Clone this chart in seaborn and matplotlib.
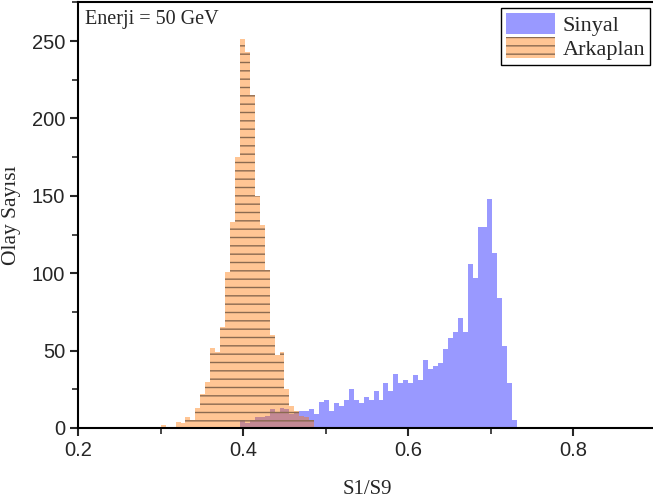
import numpy as np
import pandas as pd
import matplotlib
matplotlib.use("Agg")
import matplotlib.pyplot as plt
from matplotlib.patches import Patch
from matplotlib.ticker import MultipleLocator
import seaborn as sns

# histogram data (bin width 0.006, counts)
bin_width = 0.006
sig_first_bin = 66    # first Sinyal bin starts at 66 * 0.006
bkg_first_bin = 50    # first Arkaplan bin starts at 50 * 0.006
sig_counts = [5, 3, 5, 7, 7, 8, 12, 10, 13, 12, 9, 10, 11, 11, 12,
              9, 17, 18, 11, 16, 14, 18, 25, 18, 16, 20, 18, 24, 18, 29,
              24, 35, 29, 31, 29, 34, 31, 44, 38, 40, 42, 51, 58, 62, 71,
              62, 106, 97, 130, 130, 148, 113, 84, 53, 29, 5]
bkg_counts = [2, 0, 0, 4, 3, 7, 5, 13, 22, 30, 52, 49, 65, 101, 133, 175,
              251, 243, 215, 150, 131, 102, 60, 47, 49, 25, 14, 11, 8, 7, 5]
series_labels = ["Sinyal", "Arkaplan"]
energy_text = "Enerji = 50 GeV"

sig_edges = np.round((sig_first_bin + np.arange(len(sig_counts) + 1)) * bin_width, 4)
bkg_edges = np.round((bkg_first_bin + np.arange(len(bkg_counts) + 1)) * bin_width, 4)
sig_df = pd.DataFrame({"x": (sig_edges[:-1] + sig_edges[1:]) / 2, "n": sig_counts})
bkg_df = pd.DataFrame({"x": (bkg_edges[:-1] + bkg_edges[1:]) / 2, "n": bkg_counts})

sns.set_style("ticks")
plt.rcParams['font.family'] = ['Liberation Sans', 'DejaVu Sans']
plt.rcParams['hatch.linewidth'] = 1.0

blue = "#9999FF"
orange_face = (1.0, 0.46, 0.0, 0.42)
hatch_col = "#8A6A50"

fig = plt.figure(figsize=(6.53, 5.04), dpi=100)
ax = fig.add_axes([0.1198, 0.1508, 0.8844, 0.8446])

sns.histplot(data=sig_df, x="x", weights="n", bins=list(sig_edges), ax=ax,
             facecolor=blue, edgecolor=blue, linewidth=0, antialiased=False)
sns.histplot(data=bkg_df, x="x", weights="n", bins=list(bkg_edges), ax=ax,
             facecolor=orange_face, edgecolor=hatch_col, linewidth=0,
             hatch='--', antialiased=False)

ax.set_xlim(0.2, 0.9)
ax.set_ylim(0, 275)
ax.xaxis.set_minor_locator(MultipleLocator(0.1))
ax.yaxis.set_major_locator(MultipleLocator(50))
ax.yaxis.set_minor_locator(MultipleLocator(25))
ax.set_xticks([0.2, 0.4, 0.6, 0.8])
ax.set_xticklabels(["0.2", "0.4", "0.6", "0.8"])
ax.tick_params(which='major', length=6, width=1.5, labelsize=14.5, direction='out')
ax.tick_params(which='minor', length=4, width=1.2, direction='out')
for s in ax.spines.values():
    s.set_linewidth(1.5)
    s.set_color('black')

serif = ['Liberation Serif', 'DejaVu Serif']
ax.set_xlabel("S1/S9", family=serif, fontsize=15, labelpad=14)
ax.set_ylabel("Olay Sayısı", family=serif, fontsize=15.5, labelpad=8)

ax.text(0.012, 0.982, energy_text, transform=ax.transAxes, ha='left', va='top',
        family=serif, fontsize=14.5)

handles = [Patch(facecolor=blue, edgecolor=blue, linewidth=0),
           Patch(facecolor=orange_face, edgecolor=hatch_col, linewidth=0, hatch='--')]
leg = ax.legend(handles, series_labels, loc='upper right', fancybox=False,
                framealpha=1, edgecolor='black', prop={'family': serif, 'size': 16},
                handlelength=2.2, handleheight=1.1, handletextpad=0.35,
                labelspacing=0.05, borderpad=0.22, borderaxespad=0.25)
leg.get_frame().set_linewidth(1.0)

fig.savefig("out.png", dpi=100)
